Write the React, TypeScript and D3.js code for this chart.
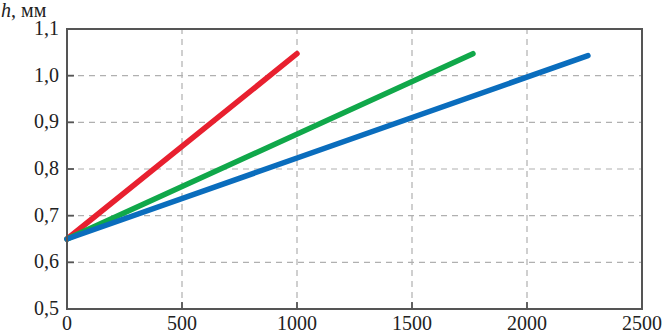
import React, { useEffect, useRef } from 'react';
import * as d3 from 'd3';

const xTicks = [0, 500, 1000, 1500, 2000, 2500];
const yTicks = [0.5, 0.6, 0.7, 0.8, 0.9, 1.0, 1.1];

const seriesNames = ['red', 'green', 'blue'];
const seriesColors = ['#e8202f', '#10a84a', '#0a6dbd'];
const seriesX = [
  [0, 1000],
  [0, 1765],
  [0, 2265],
];
const seriesY = [
  [0.65, 1.047],
  [0.65, 1.047],
  [0.65, 1.043],
];

const W = 664;
const H = 333;

const App = () => {
  const svgRef = useRef<SVGSVGElement>(null);

  useEffect(() => {
    const svg = d3.select(svgRef.current);
    svg.selectAll('*').remove();

    const x = d3.scaleLinear().domain([0, 2500]).range([67, 642]);
    const y = d3.scaleLinear().domain([0.5, 1.1]).range([309, 29]);
    const font = "'Times New Roman', 'Liberation Serif', 'DejaVu Serif', serif";
    const fmt = (v: number) => v.toFixed(1).replace('.', ',');

    // grid
    svg.append('g')
      .selectAll('line')
      .data(yTicks.slice(1, -1))
      .enter()
      .append('line')
      .attr('x1', x(0)).attr('x2', x(2500))
      .attr('y1', d => y(d)).attr('y2', d => y(d))
      .attr('stroke', '#b0b0b0')
      .attr('stroke-width', 1.2)
      .attr('stroke-dasharray', '6,5');

    svg.append('g')
      .selectAll('line')
      .data(xTicks.slice(1, -1))
      .enter()
      .append('line')
      .attr('x1', d => x(d)).attr('x2', d => x(d))
      .attr('y1', y(0.5)).attr('y2', y(1.1))
      .attr('stroke', '#b0b0b0')
      .attr('stroke-width', 1.2)
      .attr('stroke-dasharray', '6,5');

    // inner ticks
    svg.append('g')
      .selectAll('line')
      .data(yTicks.slice(1, -1))
      .enter()
      .append('line')
      .attr('x1', x(0)).attr('x2', x(0) + 7)
      .attr('y1', d => y(d)).attr('y2', d => y(d))
      .attr('stroke', '#555').attr('stroke-width', 1.8);

    svg.append('g')
      .selectAll('line')
      .data(xTicks.slice(1, -1))
      .enter()
      .append('line')
      .attr('x1', d => x(d)).attr('x2', d => x(d))
      .attr('y1', y(0.5)).attr('y2', y(0.5) - 7)
      .attr('stroke', '#555').attr('stroke-width', 1.8);

    // lines
    const line = d3.line<[number, number]>()
      .x(d => x(d[0]))
      .y(d => y(d[1]));

    seriesNames.forEach((name, i) => {
      const pts = seriesX[i].map((v, j) => [v, seriesY[i][j]] as [number, number]);
      svg.append('path')
        .datum(pts)
        .attr('class', name)
        .attr('d', line)
        .attr('fill', 'none')
        .attr('stroke', seriesColors[i])
        .attr('stroke-width', 5.5)
        .attr('stroke-linecap', 'round');
    });

    // frame
    svg.append('rect')
      .attr('x', x(0)).attr('y', y(1.1))
      .attr('width', x(2500) - x(0))
      .attr('height', y(0.5) - y(1.1))
      .attr('fill', 'none')
      .attr('stroke', '#555')
      .attr('stroke-width', 2);

    // labels
    svg.append('g')
      .selectAll('text')
      .data(yTicks)
      .enter()
      .append('text')
      .attr('x', 59)
      .attr('y', d => y(d) + 6)
      .attr('text-anchor', 'end')
      .style('font-family', font)
      .style('font-size', '20px')
      .attr('fill', '#222')
      .text(d => fmt(d));

    svg.append('g')
      .selectAll('text')
      .data(xTicks)
      .enter()
      .append('text')
      .attr('x', d => x(d))
      .attr('y', 330)
      .attr('text-anchor', 'middle')
      .style('font-family', font)
      .style('font-size', '20px')
      .attr('fill', '#222')
      .text(d => String(d));

    const title = svg.append('text')
      .attr('x', 1)
      .attr('y', 17)
      .style('font-family', font)
      .style('font-size', '20px')
      .attr('fill', '#222');
    title.append('tspan').attr('font-style', 'italic').text('h');
    title.append('tspan').text(', мм');
  }, []);

  return (
    <svg
      ref={svgRef}
      width={W}
      height={H}
      style={{ position: 'absolute', left: 0, top: 0, background: '#fff' }}
    />
  );
};

export default App;
